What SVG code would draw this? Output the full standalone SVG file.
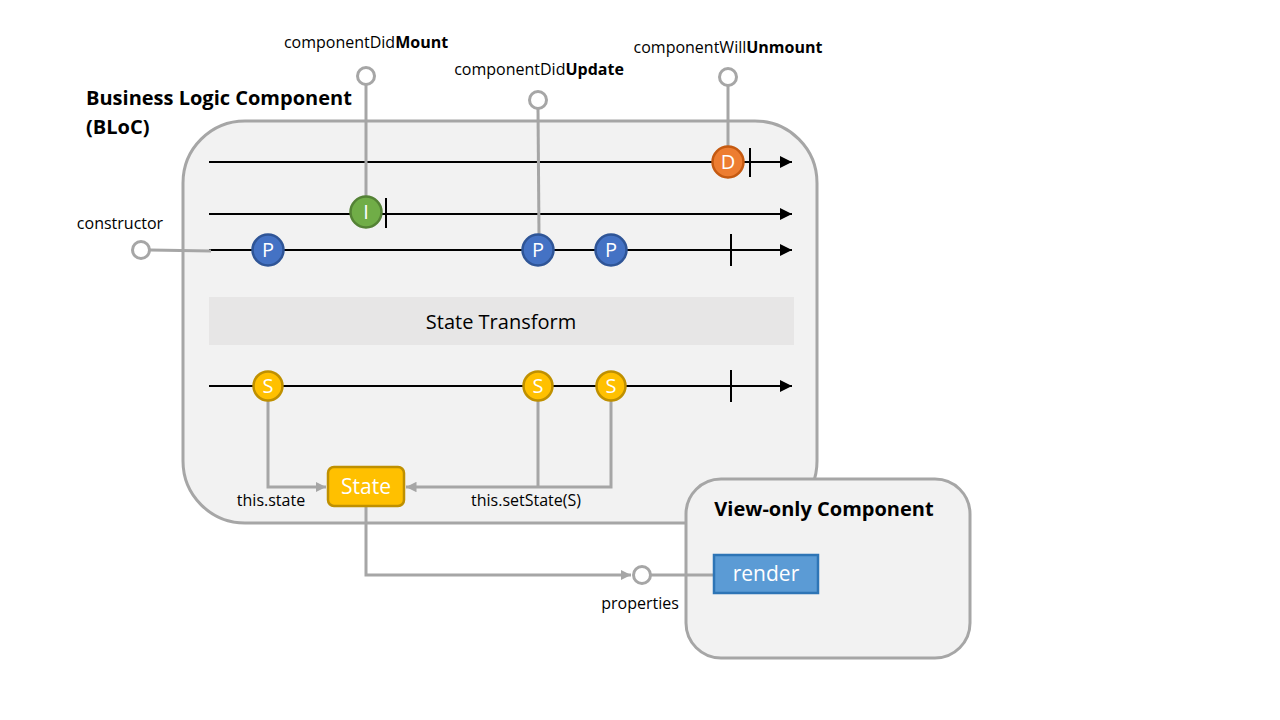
<svg xmlns="http://www.w3.org/2000/svg" width="1280" height="720" viewBox="0 0 1280 720">
<style>
text{font-family:"Open Sans",Lato,"Liberation Sans",sans-serif;fill:#000}
.lbl{font-size:16px}
.title{font-size:20px;font-weight:bold}
.tl{stroke:#000;stroke-width:2;fill:none}
.tick{stroke:#000;stroke-width:2}
.gc{stroke:#a6a6a6;stroke-width:3;fill:none}
.port{fill:#fff;stroke:#a6a6a6;stroke-width:3}
.ev{font-size:20px;fill:#fff;text-anchor:middle}
</style>
<defs>
<marker id="ba" viewBox="0 0 10 10" refX="10" refY="5" markerWidth="6" markerHeight="6" orient="auto" markerUnits="strokeWidth">
<path d="M0,0 L10,5 L0,10 z" fill="#000"/>
</marker>
<marker id="ga" viewBox="0 0 10 10" refX="10" refY="5" markerWidth="3.5" markerHeight="3.5" orient="auto" markerUnits="strokeWidth">
<path d="M0,0 L10,5 L0,10 z" fill="#a6a6a6"/>
</marker>
</defs>
<rect width="1280" height="720" fill="#fff"/>

<g id="bloc">
<rect x="183" y="121" width="634" height="402" rx="62" fill="#f2f2f2" stroke="#a6a6a6" stroke-width="3"/>
<text class="title" x="86" y="105">Business Logic Component</text>
<text class="title" x="86" y="134">(BLoC)</text>
</g>

<g id="view">
<rect x="686" y="479" width="284" height="179" rx="35" fill="#f2f2f2" stroke="#a6a6a6" stroke-width="3"/>
<text class="title" x="824" y="516" text-anchor="middle">View-only Component</text>
</g>

<g id="state-transform">
<rect x="209" y="297" width="585" height="48" fill="#e7e6e6"/>
<text x="501" y="329" font-size="20" text-anchor="middle">State Transform</text>
</g>

<g id="connectors">
<line class="tl" x1="209" y1="162" x2="792" y2="162" marker-end="url(#ba)"/>
<line class="tl" x1="209" y1="214" x2="792" y2="214" marker-end="url(#ba)"/>
<line class="tl" x1="209" y1="250" x2="792" y2="250" marker-end="url(#ba)"/>
<line class="tl" x1="209" y1="386" x2="792" y2="386" marker-end="url(#ba)"/>
<line class="tick" x1="750" y1="148" x2="750" y2="177"/>
<line class="tick" x1="386" y1="198" x2="386" y2="228"/>
<line class="tick" x1="731" y1="234" x2="731" y2="266"/>
<line class="tick" x1="731" y1="370" x2="731" y2="402"/>
<line class="gc" x1="366" y1="85" x2="366" y2="197"/>
<line class="gc" x1="538" y1="109" x2="539" y2="235"/>
<line class="gc" x1="728" y1="86" x2="728" y2="147"/>
<line class="gc" x1="150" y1="250" x2="211" y2="251"/>
<polyline class="gc" points="268,401 268,487 326,487" marker-end="url(#ga)"/>
<line class="gc" x1="538" y1="401" x2="538" y2="487"/>
<polyline class="gc" points="611,401 611,487 406,487" marker-end="url(#ga)"/>
<polyline class="gc" points="366,506 366,575 631,575" marker-end="url(#ga)"/>
<line class="gc" x1="651" y1="575" x2="713" y2="575"/>
</g>

<g id="ports">
<circle class="port" cx="366" cy="76" r="8.5"/>
<circle class="port" cx="538" cy="100" r="8.5"/>
<circle class="port" cx="728" cy="77" r="8.5"/>
<circle class="port" cx="141" cy="250" r="8.5"/>
<circle class="port" cx="642" cy="575" r="8.5"/>
<text class="lbl" x="366" y="48" text-anchor="middle">componentDid<tspan font-weight="bold">Mount</tspan></text>
<text class="lbl" x="539" y="75" text-anchor="middle">componentDid<tspan font-weight="bold">Update</tspan></text>
<text class="lbl" x="728" y="53" text-anchor="middle">componentWill<tspan font-weight="bold">Unmount</tspan></text>
<text class="lbl" x="120" y="229" text-anchor="middle">constructor</text>
<text class="lbl" x="271" y="506" text-anchor="middle">this.state</text>
<text class="lbl" x="526" y="506" text-anchor="middle">this.setState(S)</text>
<text class="lbl" x="640" y="609" text-anchor="middle">properties</text>
</g>

<g id="event-D">
<circle cx="728" cy="162" r="15.5" fill="#ed7d31" stroke="#c55a11" stroke-width="2.5"/>
<text class="ev" x="728" y="169">D</text>
</g>
<g id="event-I">
<circle cx="366" cy="212" r="15.5" fill="#70ad47" stroke="#548235" stroke-width="2.5"/>
<text class="ev" x="366" y="219">I</text>
</g>
<g id="event-P1">
<circle cx="268" cy="250" r="15.5" fill="#4472c4" stroke="#2f5597" stroke-width="2.5"/>
<text class="ev" x="268" y="257">P</text>
</g>
<g id="event-P2">
<circle cx="538" cy="250" r="15.5" fill="#4472c4" stroke="#2f5597" stroke-width="2.5"/>
<text class="ev" x="538" y="257">P</text>
</g>
<g id="event-P3">
<circle cx="611" cy="250" r="15.5" fill="#4472c4" stroke="#2f5597" stroke-width="2.5"/>
<text class="ev" x="611" y="257">P</text>
</g>
<g id="event-S1">
<circle cx="268" cy="386" r="14.5" fill="#ffc000" stroke="#bf9000" stroke-width="2.5"/>
<text class="ev" x="268" y="393">S</text>
</g>
<g id="event-S2">
<circle cx="538" cy="386" r="14.5" fill="#ffc000" stroke="#bf9000" stroke-width="2.5"/>
<text class="ev" x="538" y="393">S</text>
</g>
<g id="event-S3">
<circle cx="611" cy="386" r="14.5" fill="#ffc000" stroke="#bf9000" stroke-width="2.5"/>
<text class="ev" x="611" y="393">S</text>
</g>

<g id="state">
<rect x="328" y="467" width="76" height="39" rx="6" fill="#ffc000" stroke="#bf9000" stroke-width="2.5"/>
<text x="366" y="494" font-size="21" text-anchor="middle" style="fill:#fff">State</text>
</g>

<g id="render">
<rect x="714" y="555" width="104" height="38" fill="#5b9bd5" stroke="#2e75b6" stroke-width="2.5"/>
<text x="766" y="581" font-size="21" text-anchor="middle" style="fill:#fff">render</text>
</g>
</svg>
